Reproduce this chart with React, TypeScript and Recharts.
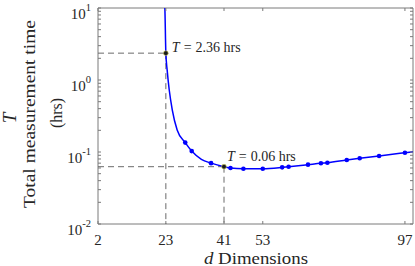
import React from "react";
import {
  ComposedChart,
  Line,
  Scatter,
  XAxis,
  YAxis,
  ReferenceLine,
  ReferenceDot,
  ReferenceArea,
  Customized
} from "recharts";

// curve (d = dimensions, T = hours)
const curveD = [22.55, 22.7, 23, 23.4, 24.05, 25, 26.5, 29, 31, 34, 37, 41, 43, 47, 53, 59, 61, 67, 71, 73, 79, 83, 89, 97, 99.5];
const curveT = [14, 10, 2.36, 1.38, 0.726, 0.383, 0.202, 0.135, 0.103, 0.079, 0.07, 0.0625, 0.06, 0.0586, 0.0586, 0.0612, 0.0625, 0.0667, 0.0697, 0.071, 0.0774, 0.0817, 0.088, 0.0977, 0.101];

// sampled points (blue markers)
const markerD = [29, 31, 37, 43, 47, 53, 59, 61, 67, 71, 73, 79, 83, 89, 97];
const markerT = [0.135, 0.103, 0.07, 0.06, 0.0586, 0.0586, 0.0612, 0.0625, 0.0667, 0.0697, 0.071, 0.0774, 0.0817, 0.088, 0.0977];

// highlighted points
const pickD = [23, 41];
const pickT = [2.36, 0.0625];
const pickLabel = ["2.36", "0.06"];

const xTicks = [2, 23, 41, 53, 97];
const yMajor = [0.01, 0.1, 1, 10];
const yMinor = [
  0.02, 0.03, 0.04, 0.05, 0.06, 0.07, 0.08, 0.09,
  0.2, 0.3, 0.4, 0.5, 0.6, 0.7, 0.8, 0.9,
  2, 3, 4, 5, 6, 7, 8, 9
];

const curve = curveD.map((d, i) => ({ d, T: curveT[i] }));
const markers = markerD.map((d, i) => ({ d, T: markerT[i] }));

const W = 415;
const H = 266;
const LEFT = 98;
const TOP = 8;
const RIGHT = 2;
const BOTTOM = 42;
const PW = W - LEFT - RIGHT;
const PH = H - TOP - BOTTOM;
const FONT = "'Liberation Serif', 'Times New Roman', serif";
const AX = "#7a7a7a";
const TXT = "#262626";
const TICK = 3;

const XTick = (props: any) => {
  const { x, payload } = props;
  const yb = TOP + PH;
  return (
    <g>
      <line x1={x} x2={x} y1={yb} y2={yb - TICK} stroke={AX} />
      <line x1={x} x2={x} y1={TOP} y2={TOP + TICK} stroke={AX} />
      <text x={x} y={yb + 21} textAnchor="middle" fontFamily={FONT} fontSize={15} fill={TXT}>
        {payload.value}
      </text>
    </g>
  );
};

const YTick = (props: any) => {
  const { y, payload } = props;
  const v = payload.value;
  const major = yMajor.includes(v);
  const exp = Math.round(Math.log10(v));
  return (
    <g>
      <line x1={LEFT} x2={LEFT + TICK} y1={y} y2={y} stroke={AX} />
      <line x1={LEFT + PW - TICK} x2={LEFT + PW} y1={y} y2={y} stroke={AX} />
      {major && (
        <text x={LEFT - 7} y={y + 10.5} textAnchor="end" fontFamily={FONT} fontSize={15} fill={TXT}>
          <tspan>10</tspan>
          <tspan dy={-7.5} fontSize={10.5}>{`${exp}`}</tspan>
        </text>
      )}
    </g>
  );
};

const Dot = (props: any) => {
  const { cx, cy } = props;
  return <circle cx={cx} cy={cy} r={2.3} fill="#0000ff" />;
};

const pickLabelRenderer = (i: number, dx: number, dy: number) => (props: any) => {
  const vb = props.viewBox || {};
  const cx = vb.x + (vb.width || 0) / 2;
  const cy = vb.y + (vb.height || 0) / 2;
  return (
    <text x={cx + dx} y={cy + dy} fontFamily={FONT} fontSize={14} fill={TXT}>
      <tspan fontStyle="italic">T</tspan>
      <tspan dx={4}>=</tspan>
      <tspan dx={4}>{`${pickLabel[i]} hrs`}</tspan>
    </text>
  );
};

const AxisTitles = () => (
  <g fontFamily={FONT} fill={TXT}>
    <text x={9} y={118} transform="rotate(-90 9 118)" textAnchor="middle" dominantBaseline="central" fontStyle="italic" fontSize={19}>
      T
    </text>
    <text
      x={29}
      y={114}
      transform="rotate(-90 29 114)"
      textAnchor="middle"
      dominantBaseline="central"
      fontSize={16}
      textLength={188}
      lengthAdjust="spacingAndGlyphs"
    >
      Total measurement time
    </text>
    <text x={56} y={113} transform="rotate(-90 56 113)" textAnchor="middle" dominantBaseline="central" fontSize={16}>
      (hrs)
    </text>
    <text x={256} y={264} textAnchor="middle" fontSize={16} textLength={104} lengthAdjust="spacingAndGlyphs">
      <tspan fontStyle="italic">d</tspan>
      <tspan> Dimensions</tspan>
    </text>
  </g>
);

export default function App() {
  return (
    <div style={{ position: "absolute", left: 0, top: 0, width: W, height: H, background: "#fff" }}>
      <ComposedChart width={W} height={H} margin={{ top: TOP, right: RIGHT, bottom: 0, left: 0 }}>
        <XAxis
          type="number"
          dataKey="d"
          domain={[2, 99.5]}
          ticks={xTicks}
          interval={0}
          allowDataOverflow
          axisLine={false}
          tickLine={false}
          tickSize={0}
          height={BOTTOM}
          tick={<XTick />}
        />
        <YAxis
          type="number"
          dataKey="T"
          scale="log"
          domain={[0.01, 10]}
          ticks={[...yMajor, ...yMinor].sort((a, b) => a - b)}
          interval={0}
          allowDataOverflow
          axisLine={false}
          tickLine={false}
          tickSize={0}
          width={LEFT}
          tick={<YTick />}
        />
        <ReferenceArea x1={2} x2={99.5} y1={0.01} y2={10} fill="none" fillOpacity={0} stroke={AX} strokeWidth={1} />
        {pickD.map((d, i) => (
          <ReferenceLine key={`h${i}`} segment={[{ x: 2, y: pickT[i] }, { x: d, y: pickT[i] }]} stroke="#6a6a6a" strokeDasharray="6 4" />
        ))}
        {pickD.map((d, i) => (
          <ReferenceLine key={`v${i}`} segment={[{ x: d, y: pickT[i] }, { x: d, y: 0.01 }]} stroke="#6a6a6a" strokeDasharray="6 4" />
        ))}
        <Line
          data={curve}
          dataKey="T"
          type="monotone"
          stroke="#0000ff"
          strokeWidth={1.5}
          dot={false}
          isAnimationActive={false}
        />
        <Scatter data={markers} dataKey="T" shape={<Dot />} isAnimationActive={false} />
        {pickD.map((d, i) => (
          <ReferenceDot
            key={`p${i}`}
            x={d}
            y={pickT[i]}
            r={2.4}
            fill="#1a1a1a"
            stroke="#d8d860"
            strokeWidth={0.6}
            label={{ content: pickLabelRenderer(i, i === 0 ? 6 : 3, i === 0 ? -1.5 : -6) }}
          />
        ))}
        <Customized component={AxisTitles} />
      </ComposedChart>
    </div>
  );
}
